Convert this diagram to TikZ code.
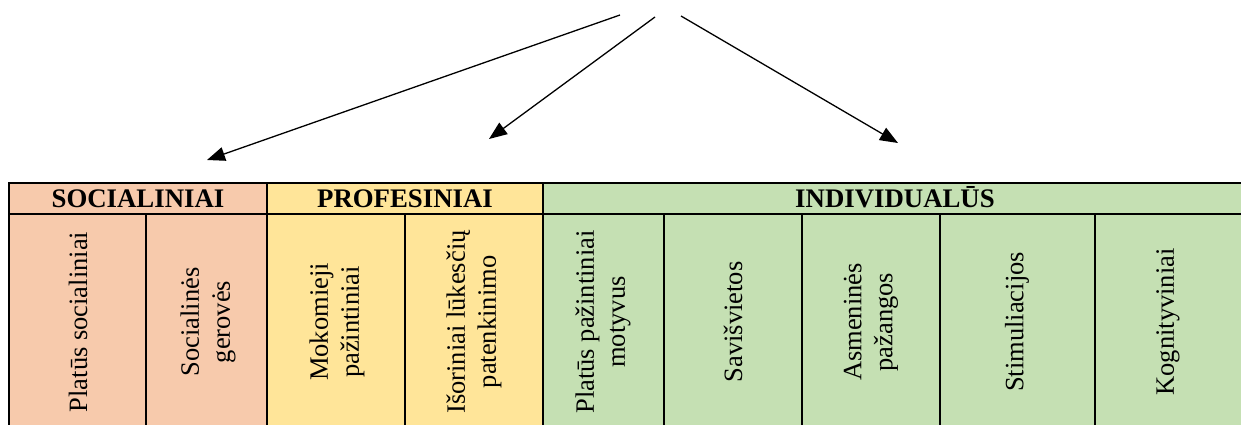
\documentclass[tikz,border=0pt]{standalone}
\usepackage{fontspec}
\setmainfont{Liberation Serif}
\usetikzlibrary{arrows.meta}
\definecolor{soc}{HTML}{F7CAAC}
\definecolor{prof}{HTML}{FFE599}
\definecolor{indiv}{HTML}{C5E0B3}
\begin{document}
\begin{tikzpicture}[x=1pt,y=-1pt,
 grid/.style={line width=2.6pt, line cap=rect},
 head/.style={font=\fontsize{26.8}{30}\selectfont\bfseries, inner sep=0pt, anchor=base},
 cell/.style={font=\fontsize{26.5}{31}\selectfont, rotate=90, align=center, inner sep=0pt},
 arr/.style={line width=1.3pt, -{Triangle[length=18pt,width=14pt]}}]
\useasboundingbox (0,0) rectangle (1241,425);
% fills
\fill[soc] (9,183) rectangle (267,440);
\fill[prof] (267,183) rectangle (543,440);
\fill[indiv] (543,183) rectangle (1260,440);
% grid
\draw[grid] (1260,183) -- (9,183) -- (9,440);
\draw[grid] (9,214) -- (1260,214);
\foreach \x in {267,543} \draw[grid] (\x,183) -- (\x,440);
\foreach \x in {146,405,664,802,940,1095} \draw[grid] (\x,214) -- (\x,440);
% headers
\node[head] (hsoc) at (138,207) {SOCIALINIAI};
\node[head] (hprof) at (405,207) {PROFESINIAI};
\node[head] (hind) at (895,207) {INDIVIDUALŪS};
% cells
\node[cell] (c1) at (78,322) {Platūs socialiniai};
\node[cell] (c2) at (208,322) {Socialinės\\gerovės};
\node[cell] (c3) at (337,322) {Mokomieji\\pažintiniai};
\node[cell] (c4) at (474,322) {Išoriniai lūkesčių\\patenkinimo};
\node[cell] (c5) at (603,322) {Platūs pažintiniai\\motyvus};
\node[cell] (c6) at (733,322) {Savišvietos};
\node[cell] (c7) at (871,322) {Asmeninės\\pažangos};
\node[cell] (c8) at (1017,322) {Stimuliacijos};
\node[cell] (c9) at (1168,322) {Kognityviniai};
% arrows
\coordinate (s1) at (620,15);
\coordinate (s2) at (655,17);
\coordinate (s3) at (681,16);
\coordinate (t1) at (207,160);
\coordinate (t2) at (489,139);
\coordinate (t3) at (898,143);
\draw[arr] (s1) -- (t1);
\draw[arr] (s2) -- (t2);
\draw[arr] (s3) -- (t3);
\end{tikzpicture}
\end{document}
